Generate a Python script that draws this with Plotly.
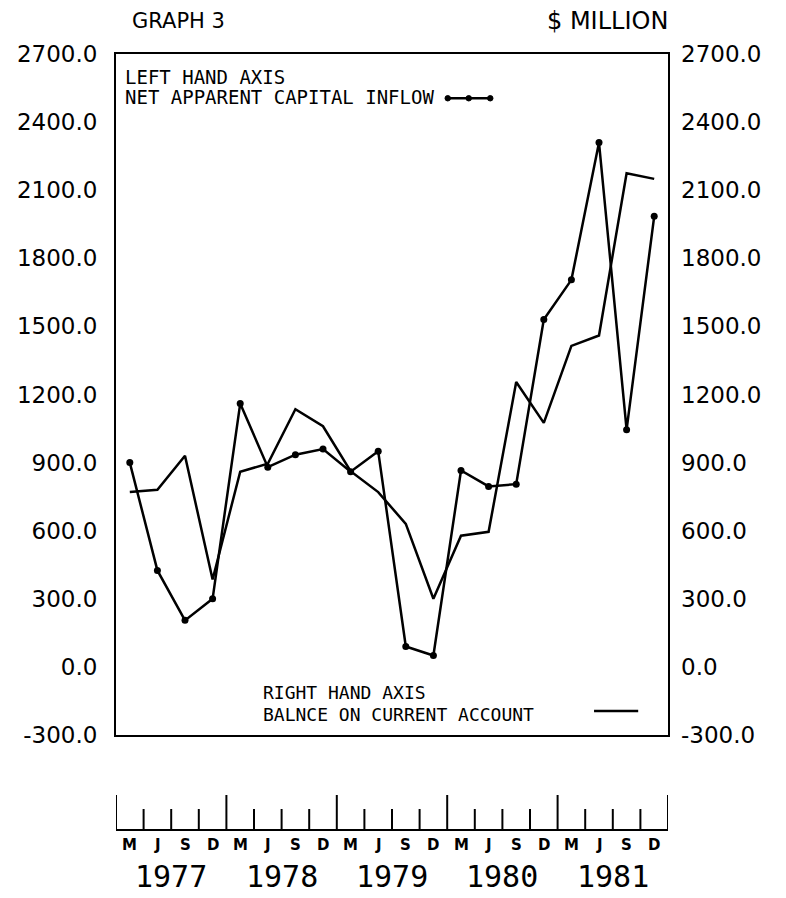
import plotly.graph_objects as go

quarters = ["M", "J", "S", "D"]
years = ["1977", "1978", "1979", "1980", "1981"]
period_labels = [q for y in years for q in quarters]

capital_inflow = [900, 425, 205, 300, 1160, 880, 935, 960, 860, 950,
                  90, 50, 865, 795, 805, 1530, 1705, 2310, 1045, 1985]
current_account = [770, 780, 930, 385, 860, 895, 1135, 1060, 862, 770,
                   630, 300, 578, 595, 1255, 1075, 1414, 1460, 2175, 2150]

y_ticks = [-300, 0, 300, 600, 900, 1200, 1500, 1800, 2100, 2400, 2700]

FONT = "DejaVu Sans"
MONO = "DejaVu Sans Mono"
x_idx = list(range(len(period_labels)))

fig = go.Figure()
fig.add_trace(go.Scatter(
    x=x_idx, y=current_account, mode="lines", yaxis="y2",
    line=dict(color="black", width=2.5), showlegend=False))
fig.add_trace(go.Scatter(
    x=x_idx, y=capital_inflow, mode="lines+markers",
    line=dict(color="black", width=2.5),
    marker=dict(color="black", size=7), showlegend=False))

tick_text = [f"{v:.1f}" for v in y_ticks]
fig.update_layout(
    width=779, height=891,
    margin=dict(l=108, r=119, t=46, b=164, autoexpand=False),
    paper_bgcolor="white", plot_bgcolor="white",
    xaxis=dict(range=[-0.5, len(x_idx) - 0.5], showgrid=False, zeroline=False,
               showticklabels=False, ticks="", showline=True, mirror=True,
               linecolor="black", linewidth=2, automargin=False),
    yaxis=dict(range=[-300, 2700], tickvals=y_ticks, ticktext=tick_text,
               showgrid=False, zeroline=False, ticks="", showline=True,
               mirror=True, linecolor="black", linewidth=2,
               ticklabelstandoff=12, automargin=False,
               tickfont=dict(family=FONT, size=23, color="black")),
    yaxis2=dict(range=[-300, 2700], tickvals=y_ticks, ticktext=tick_text,
                overlaying="y", side="right", showgrid=False, zeroline=False,
                ticks="", showline=False, ticklabelstandoff=12, automargin=False,
                tickfont=dict(family=FONT, size=23, color="black")),
)

shapes = []
annotations = []

# Bottom period axis drawn below plot
base_y, big_top, small_top = -0.1395, -0.0881, -0.1087
n = len(x_idx)
shapes.append(dict(type="line", xref="x", yref="paper", x0=-0.5, x1=n - 0.5,
                   y0=base_y, y1=base_y, line=dict(color="black", width=2)))
for k in range(n + 1):
    xb = k - 0.5
    top = big_top if k % 4 == 0 else small_top
    shapes.append(dict(type="line", xref="x", yref="paper", x0=xb, x1=xb,
                       y0=base_y, y1=top, line=dict(color="black", width=2)))
for i, lab in enumerate(period_labels):
    annotations.append(dict(x=i, y=-0.1615, xref="x", yref="paper", text=f"<b>{lab}</b>",
                            showarrow=False, xanchor="center", yanchor="middle",
                            font=dict(family=FONT, size=15, color="black")))
for j, yr in enumerate(years):
    annotations.append(dict(x=4 * j + 1.5, y=-0.2085, xref="x", yref="paper", text=yr,
                            showarrow=False, xanchor="center", yanchor="middle",
                            font=dict(family=MONO, size=30, color="black")))

# Titles
annotations.append(dict(x=0.027, y=1.049, xref="paper", yref="paper", text="GRAPH 3",
                        showarrow=False, xanchor="left", yanchor="middle", borderpad=0,
                        font=dict(family=FONT, size=21, color="black")))
annotations.append(dict(x=1.002, y=1.049, xref="paper", yref="paper", text="$ MILLION",
                        showarrow=False, xanchor="right", yanchor="middle", borderpad=0,
                        font=dict(family=FONT, size=24, color="black")))

# Legend texts
annotations.append(dict(x=0.012, y=0.966, xref="paper", yref="paper", text="LEFT HAND AXIS",
                        showarrow=False, xanchor="left", yanchor="middle",
                        font=dict(family=MONO, size=19, color="black")))
annotations.append(dict(x=0.012, y=0.937, xref="paper", yref="paper",
                        text="NET APPARENT CAPITAL INFLOW",
                        showarrow=False, xanchor="left", yanchor="middle",
                        font=dict(family=MONO, size=19, color="black")))
annotations.append(dict(x=0.262, y=0.0617, xref="paper", yref="paper", text="RIGHT HAND AXIS",
                        showarrow=False, xanchor="left", yanchor="middle",
                        font=dict(family=MONO, size=18, color="black")))
annotations.append(dict(x=0.262, y=0.0294, xref="paper", yref="paper",
                        text="BALNCE ON CURRENT ACCOUNT",
                        showarrow=False, xanchor="left", yanchor="middle",
                        font=dict(family=MONO, size=18, color="black")))

# Legend glyphs
shapes.append(dict(type="line", xref="paper", yref="paper", x0=0.601, x1=0.678,
                   y0=0.935, y1=0.935, line=dict(color="black", width=2.5)))
for xd in [0.601, 0.639, 0.678]:
    shapes.append(dict(type="circle", xref="paper", yref="paper",
                       x0=xd - 0.005, x1=xd + 0.005, y0=0.935 - 0.004, y1=0.935 + 0.004,
                       fillcolor="black", line=dict(color="black", width=1)))
shapes.append(dict(type="line", xref="paper", yref="paper", x0=0.866, x1=0.946,
                   y0=0.0352, y1=0.0352, line=dict(color="black", width=2.5)))

fig.update_layout(shapes=shapes, annotations=annotations)
fig.write_html("out.html")
